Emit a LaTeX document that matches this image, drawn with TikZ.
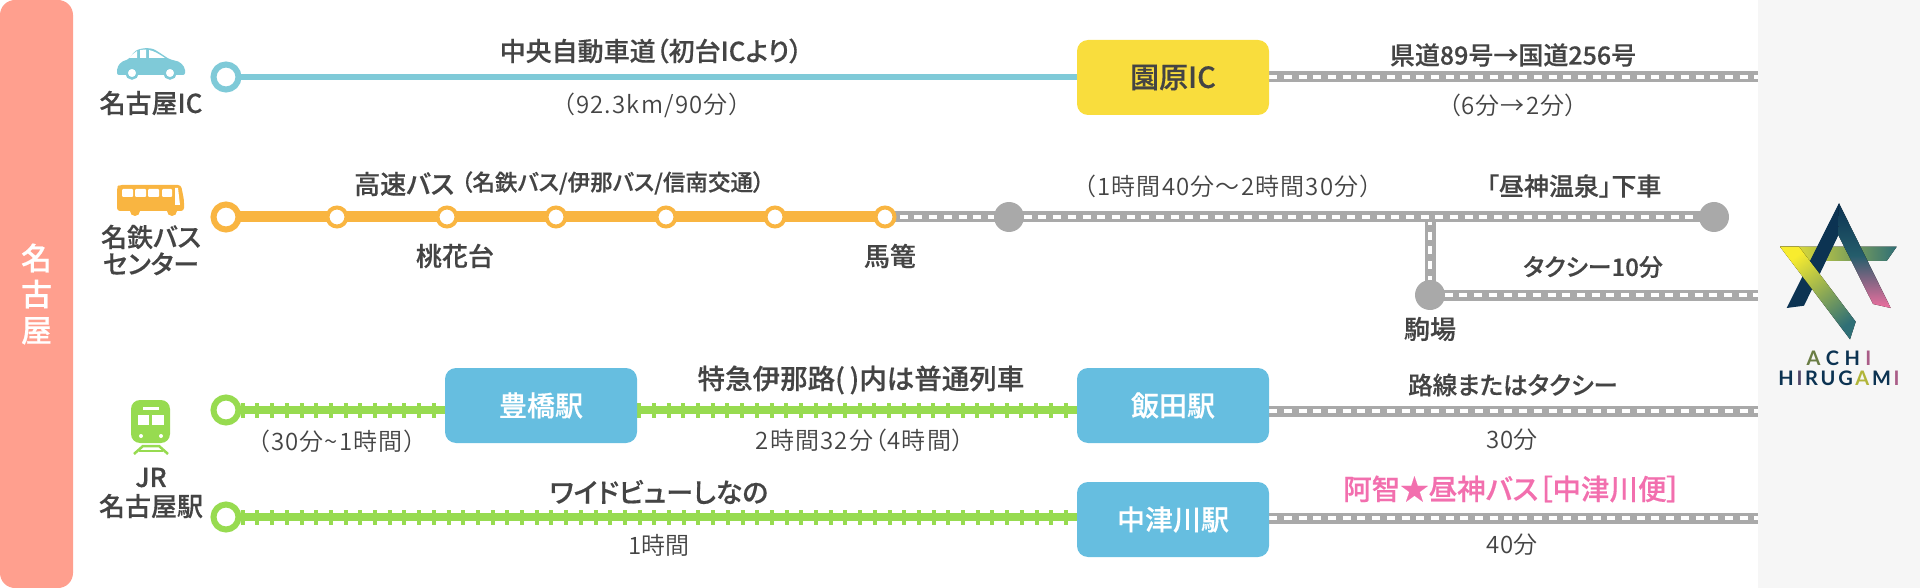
\documentclass[tikz,border=0pt]{standalone}
\usepackage{fontspec}
\usetikzlibrary{backgrounds}
\setmainfont[RawFeature=+palt,UprightFont={* DemiLight}]{Noto Sans CJK JP}
\newfontfamily\cjkm[RawFeature=+palt,UprightFont={* Medium},FakeBold=0.4]{Noto Sans CJK JP}
\newfontfamily\cjkw[RawFeature=+palt,UprightFont={* DemiLight},LetterSpace=5]{Noto Sans CJK JP}
\newfontfamily\logofont{Lato}
\newcommand{\lk}{\kern2.7pt\relax}
\definecolor{salmon}{HTML}{FF9F8E}
\definecolor{panel}{HTML}{F6F6F6}
\definecolor{teal}{HTML}{7FCAD8}
\definecolor{orng}{HTML}{F9B541}
\definecolor{gn}{HTML}{97DB50}
\definecolor{gry}{HTML}{A9A9A9}
\definecolor{yel}{HTML}{F9DD3D}
\definecolor{sky}{HTML}{66BEE0}
\definecolor{txt}{HTML}{444444}
\definecolor{pnk}{HTML}{F26FAE}
\definecolor{navy}{HTML}{0C3352}
\definecolor{lyel}{HTML}{F8EC2E}
\definecolor{lteal}{HTML}{2F6F76}
\definecolor{lpnk}{HTML}{EE6F9F}
\tikzset{
  x=1pt,y=-1pt,
  road/.style={draw=gry,line width=11pt,postaction={draw=white,line width=3.6pt,dash pattern=on 8pt off 6.7pt}},
  rail/.style={draw=gn,line width=8pt,postaction={draw=gn,line width=15pt,dash pattern=on 4pt off 10.7pt}},
  startc/.style={circle,draw=#1,line width=6pt,fill=white,minimum size=25pt,inner sep=0pt},
  stopc/.style={circle,draw=orng,line width=4pt,fill=white,minimum size=19pt,inner sep=0pt},
  grayc/.style={circle,fill=gry,minimum size=30pt,inner sep=0pt},
  boxn/.style={rounded corners=11pt,minimum width=192pt,minimum height=75pt,inner sep=0pt,fill=#1},
  tm/.style={inner sep=0pt,text=txt,align=center,font=\cjkm\fontsize{#1}{#1}\selectfont},
  tr/.style={inner sep=0pt,text=txt,align=center,font=\fontsize{#1}{#1}\selectfont},
  trw/.style={inner sep=0pt,text=txt,align=center,font=\cjkw\fontsize{#1}{#1}\selectfont},
}
\begin{document}
\begin{tikzpicture}
\useasboundingbox (0,0) rectangle (1920,588);
\fill[panel] (1758,0) rectangle (1920,588);
\node[fill=salmon,rounded corners=15pt,minimum width=73pt,minimum height=588pt,inner sep=0pt,text=white,align=center,font=\cjkm\fontsize{31}{36}\selectfont] (bar) at (36.5,294) {名\\古\\屋};

% nodes on the lines
\node[startc=teal] (s1) at (226,77) {};
\node[startc=orng] (s2) at (226,217) {};
\node[startc=gn] (s3) at (226,410) {};
\node[startc=gn] (s4) at (226,517) {};
\node[boxn=yel,text=txt,font=\cjkm\fontsize{29}{30}\selectfont] (sono) at (1173,77.5) {園原IC};
\node[boxn=sky,text=white,font=\cjkm\fontsize{28}{30}\selectfont] (toyo) at (541,405.5) {豊橋駅};
\node[boxn=sky,text=white,font=\cjkm\fontsize{28}{30}\selectfont] (iida) at (1173,405.5) {飯田駅};
\node[boxn=sky,text=white,font=\cjkm\fontsize{28}{30}\selectfont] (naka) at (1173,519.5) {中津川駅};
\node[stopc] (o1) at (337,217) {};
\node[stopc] (o2) at (447,217) {};
\node[stopc] (o3) at (556,217) {};
\node[stopc] (o4) at (666,217) {};
\node[stopc] (o5) at (775,217) {};
\node[stopc] (o6) at (885,217) {};
\node[grayc] (g1) at (1009,217) {};
\node[grayc] (g2) at (1714,217) {};
\node[grayc] (g3) at (1430,295) {};
\coordinate (j) at (1430,217);
\coordinate (e1) at (1758,77);
\coordinate (e3) at (1758,295);
\coordinate (e4) at (1758,411);
\coordinate (e5) at (1758,518);

% connectors
\begin{pgfonlayer}{background}
\draw[teal,line width=6pt] (s1.center) -- (s1 -| sono.west);
\draw[road] (s1 -| sono.east) -- (e1);
\draw[orng,line width=11pt] (s2.center) -- (o1.center);
\draw[orng,line width=11pt] (o1.center) -- (o2.center);
\draw[orng,line width=11pt] (o2.center) -- (o3.center);
\draw[orng,line width=11pt] (o3.center) -- (o4.center);
\draw[orng,line width=11pt] (o4.center) -- (o5.center);
\draw[orng,line width=11pt] (o5.center) -- (o6.center);
\draw[road] (j) -- (g3.center);
\draw[road] (o6.center) -- (g1.center);
\draw[road] (g1.center) -- (g2.center);
\draw[road] (g3.center) -- (e3);
\draw[rail] (s3.center) -- (s3 -| toyo.west);
\draw[rail] (s3 -| toyo.east) -- (s3 -| iida.west);
\draw[road] (e4 -| iida.east) -- (e4);
\draw[rail] (s4.center) -- (s4 -| naka.west);
\draw[road] (e5 -| naka.east) -- (e5);
\end{pgfonlayer}

% texts
\node[tm=26] (t1) at (151,103) {名古屋IC};
\node[tm=25,font=\cjkm\fontsize{26}{27}\selectfont] (t2) at (151,250) {名鉄バス\\センター};
\node[tm=26,font=\cjkm\fontsize{26}{29}\selectfont] (t3) at (151,493) {JR\\名古屋駅};
\node[tm=26] (t4) at (651,51) {中央自動車道（初台ICより）};
\node[trw=24] (t5) at (652,105) {（92.3km/90分）};
\node[tm=25] (t6) at (1513,55) {県道89号→国道256号};
\node[trw=24] (t7) at (1513,105) {（6分→2分）};
\node[tm=26,anchor=west] (t8) at (354,184) {高速バス};
\node[tm=22.5,anchor=west] (t9) at (461,183) {（名鉄バス/伊那バス/信南交通）};
\node[tm=26] (t10) at (455,256) {桃花台};
\node[tm=26] (t11) at (890,256) {馬篭};
\node[trw=24] (t12) at (1228,186) {（1時間40分～2時間30分）};
\node[tm=25] (t13) at (1574,186) {「昼神温泉」下車};
\node[tm=24] (t14) at (1593,267) {タクシー10分};
\node[tm=26] (t15) at (1430,329) {駒場};
\node[tm=24.5] (t16) at (1513,385) {路線またはタクシー};
\node[tr=24] (t17) at (1512,440) {30分};
\node[tm=27.5] (t18) at (861,380) {特急伊那路(\,)内は普通列車};
\node[trw=24] (t19) at (860,440) {2時間32分（4時間）};
\node[trw=24] (t20) at (337,441) {（30分\string~1時間）};
\node[tm=27] (t21) at (659,492) {ワイドビューしなの};
\node[tr=24] (t22) at (659,545) {1時間};
\node[tm=28.5,text=pnk] (t23) at (1512,489) {阿智★昼神バス［中津川便］};
\node[tr=24] (t24) at (1512,545) {40分};

% car icon
\fill[teal,rounded corners=2pt] (117,75) -- (117,68) -- (121,62) -- (129,59) -- (134,52) .. controls (140,48) and (150,47) .. (157,51) -- (169,59) -- (180,62) -- (185,68) -- (185,75) -- cycle;
\fill[white] (129,58) -- (133,54) -- (137,51) -- (137,58) -- cycle;
\fill[white] (140,50) -- (146,49.5) -- (146,58) -- (140,58) -- cycle;
\fill[white] (149,50) .. controls (154,51) and (159,54) .. (165,58) -- (149,58) -- cycle;
\filldraw[fill=white,draw=teal,line width=2.5pt] (132,73) circle (5.5pt);
\filldraw[fill=white,draw=teal,line width=2.5pt] (170,73) circle (5.5pt);
% bus icon
\fill[orng,rounded corners=3pt] (117,211) -- (117,187) -- (119,185) -- (181,185) -- (184,200) -- (184,211) -- cycle;
\fill[orng] (135,211) circle (5pt) (172,211) circle (5pt);
\fill[white,rounded corners=1pt] (122,189) rectangle (133,197);
\fill[white,rounded corners=1pt] (135,189) rectangle (146,197);
\fill[white,rounded corners=1pt] (148,189) rectangle (159,197);
\fill[white,rounded corners=1pt] (162,189) rectangle (172,197);
\fill[white] (175,188) -- (178,188) -- (180,205) -- (175,205) -- cycle;
% train icon
\fill[gn,rounded corners=9pt] (131,443) rectangle (170,400);
\fill[white] (143,407) rectangle (159,409.5);
\fill[white] (138,415) rectangle (149,425);
\fill[white] (152,415) rectangle (164,425);
\fill[white] (141,436) circle (2pt) (161,436) circle (2pt);
\draw[gn,line width=2.5pt] (134,454) -- (143,446) -- (159,446) -- (168,454);
\draw[gn,line width=2.2pt] (139,451) -- (163,451);

% logo
\fill[left color=lyel,right color=lteal] (1780,246.7) -- (1896.7,246.7) -- (1886.7,261) -- (1795,261) -- cycle;
\fill[navy] (1839,203.3) -- (1786.7,308) -- (1804,305.7) -- (1838.3,235) -- cycle;
\fill[top color=lyel,bottom color=lteal,shading angle=37.5] (1780,246.7) -- (1850,339.3) -- (1855.7,321.7) -- (1799,246.7) -- cycle;
\fill[navy] (1839,203.3) -- (1810,261) -- (1820,273.3) -- (1838.3,235) -- cycle;
\fill[top color=navy,bottom color=lpnk,middle color=lteal!70!navy] (1839,203.3) -- (1890.7,308) -- (1873,304) -- (1838.3,235) -- cycle;
\node[inner sep=0pt,text=navy,font=\logofont\bfseries\fontsize{20}{20}\selectfont] (l1) at (1839,358) {\textcolor{navy!60!lyel}{A}\lk\lk C\lk\lk H\lk\lk\textcolor{lpnk!70!navy}{I}};
\node[inner sep=0pt,text=navy,font=\logofont\bfseries\fontsize{20}{20}\selectfont] (l2) at (1839,378) {H\lk\textcolor{navy!70!lpnk}{I}\lk R\lk U\lk G\lk\textcolor{lyel!70!navy}{A}\lk M\lk\textcolor{lpnk!70!navy}{I}};
\end{tikzpicture}
\end{document}
